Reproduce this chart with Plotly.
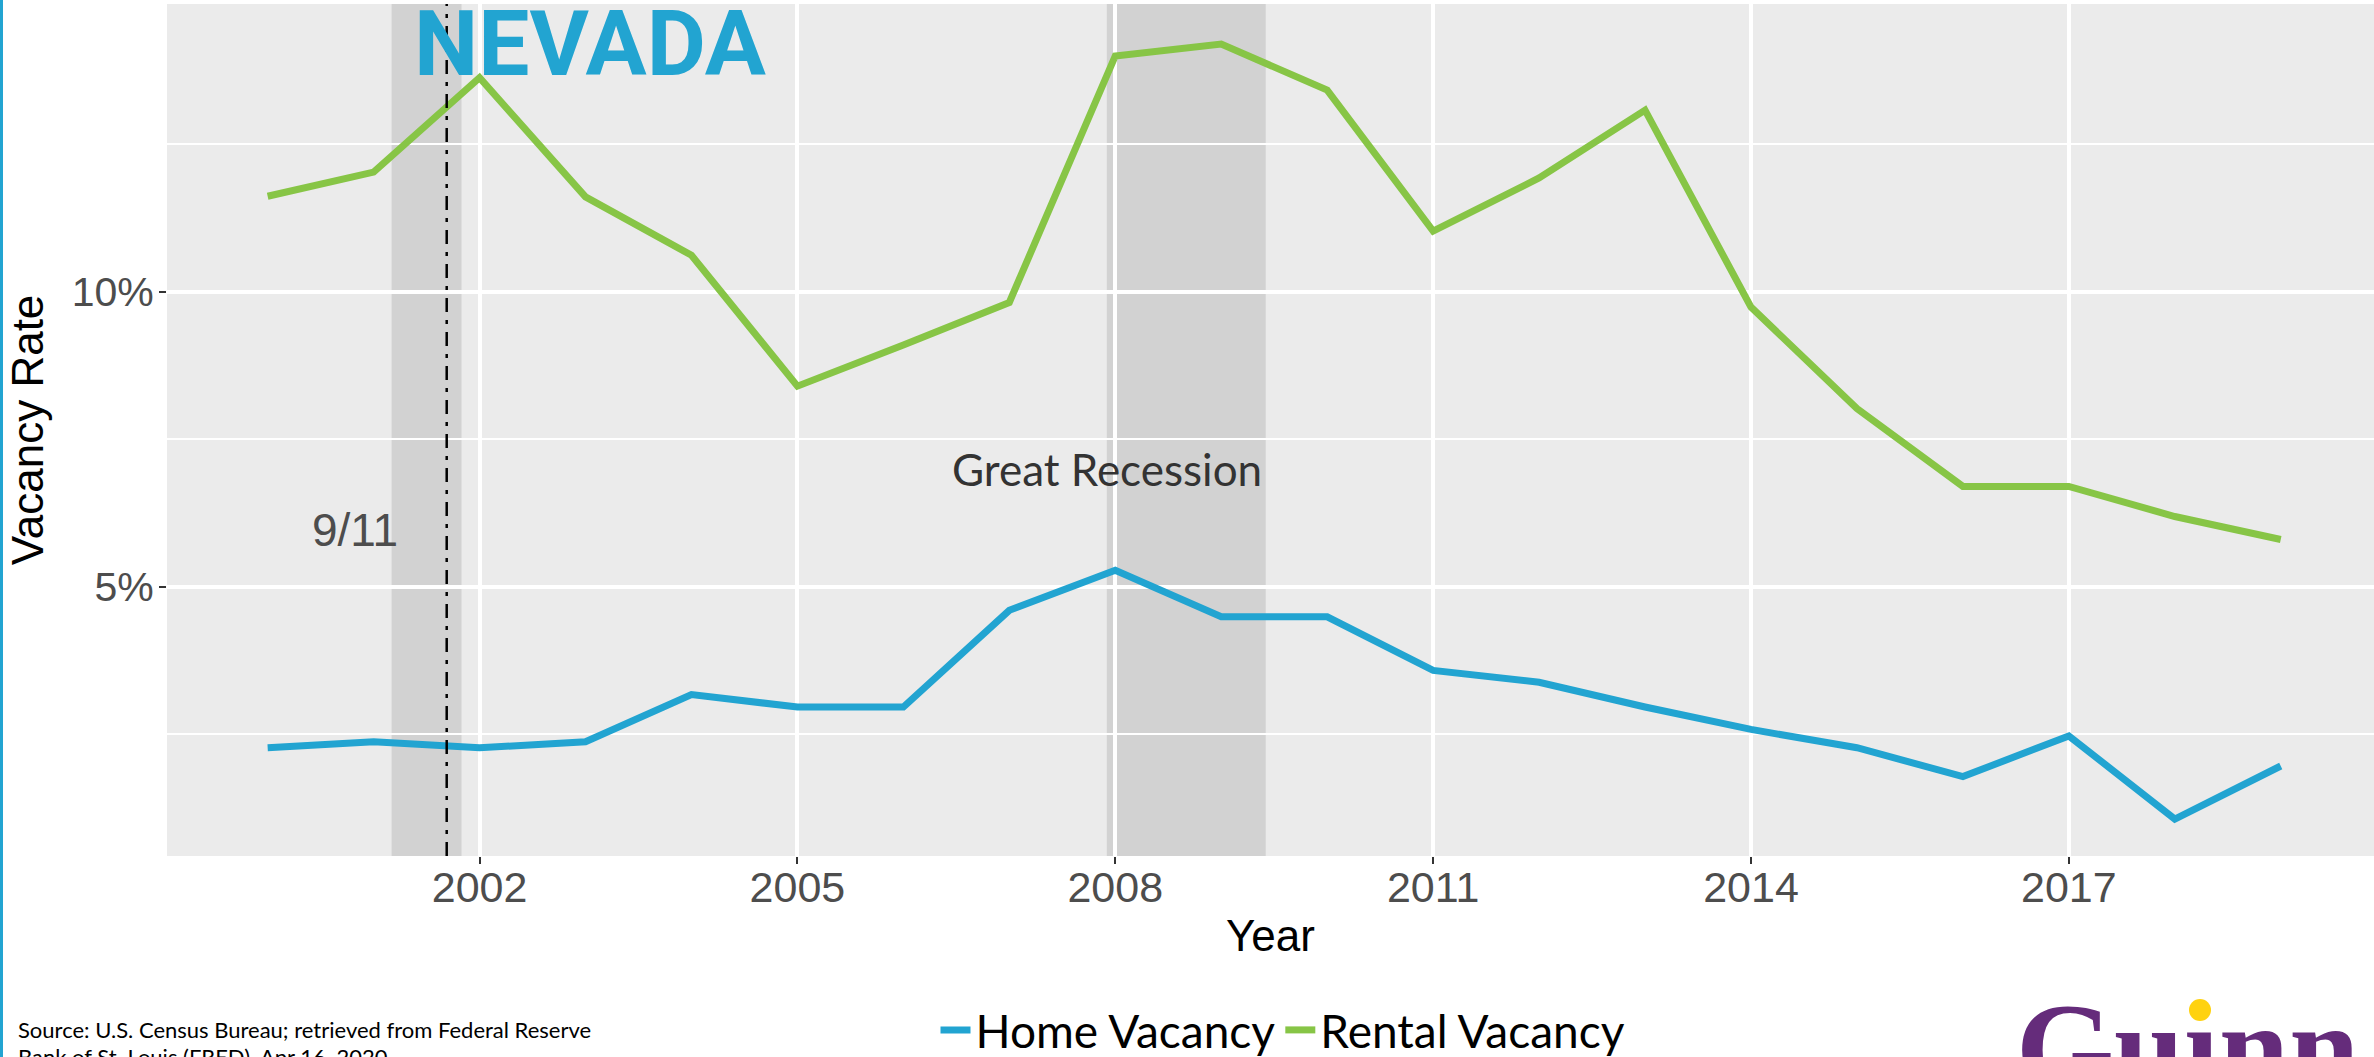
import plotly.graph_objects as go

# ---------------- data ----------------
years = list(range(2000, 2020))
home_vacancy = [2.27, 2.37, 2.27, 2.37, 3.17, 2.96, 2.96, 4.60, 5.28, 4.49,
                4.49, 3.58, 3.38, 2.96, 2.58, 2.27, 1.78, 2.47, 1.06, 1.96]
rental_vacancy = [11.62, 12.03, 13.63, 11.61, 10.62, 8.40, 9.10, 9.82, 14.00, 14.20,
                  13.42, 11.03, 11.93, 13.08, 9.74, 8.02, 6.70, 6.70, 6.19, 5.80]
x_tick_years = [2002, 2005, 2008, 2011, 2014, 2017]
y_tick_vals = [5, 10]
y_tick_text = ["5%", "10%"]
y_minor_vals = [2.5, 7.5, 12.5]
recessions = [(2001.17, 2001.83), (2007.92, 2009.42)]
sept11 = 2001.69

BLUE = "#22A4D1"
GREEN = "#87C546"
PURPLE = "#652C7B"
YELLOW = "#FFD20F"

W, H = 2374, 1057
ML, MR, MT, MB = 167, 0, 4, 201
PW = W - ML - MR
PH = H - MT - MB


def px_x(p):
    return (p - ML) / PW


def px_y(p):
    return (H - MB - p) / PH


fig = go.Figure()
fig.add_trace(go.Scatter(x=years, y=home_vacancy, mode="lines", name="Home Vacancy",
                         line=dict(color=BLUE, width=7)))
fig.add_trace(go.Scatter(x=years, y=rental_vacancy, mode="lines", name="Rental Vacancy",
                         line=dict(color=GREEN, width=7)))

shapes = []
for a, b in recessions:
    shapes.append(dict(type="rect", xref="x", yref="y domain", x0=a, x1=b, y0=0, y1=1,
                       fillcolor="rgba(0,0,0,0.105)", line=dict(width=0), layer="below"))
shapes.append(dict(type="line", xref="x", yref="y domain", x0=sept11, x1=sept11, y0=0, y1=1,
                   line=dict(color="black", width=2.5, dash="14px,8px,4px,8px"), layer="above"))
# left blue frame edge
shapes.append(dict(type="rect", xref="paper", yref="paper", x0=px_x(0), x1=px_x(3),
                   y0=px_y(H), y1=px_y(0), fillcolor=BLUE, line=dict(width=0), layer="above"))
# yellow dot of the logo
shapes.append(dict(type="circle", xref="paper", yref="paper", x0=px_x(2189), x1=px_x(2211),
                   y0=px_y(1021), y1=px_y(999), fillcolor=YELLOW, line=dict(width=0), layer="above"))

human = "Lato, Roboto, sans-serif"
helv = "Liberation Sans, Arial, Helvetica, sans-serif"

annotations = [
    dict(text="<b>NEVADA</b>", xref="paper", yref="paper", x=px_x(412), y=px_y(44),
         xanchor="left", yanchor="middle", showarrow=False,
         font=dict(family="Roboto, Arial, sans-serif", size=91, color=BLUE)),
    dict(text="Great Recession", xref="x", yref="y", x=2007.92, y=7.0,
         xanchor="center", yanchor="middle", showarrow=False,
         font=dict(family=human, size=44, color="#333333")),
    dict(text="9/11", xref="x", yref="y", x=2000.82, y=5.97,
         xanchor="center", yanchor="middle", showarrow=False,
         font=dict(family=helv, size=46, color="#4D4D4D")),
    dict(text="Source: U.S. Census Bureau; retrieved from Federal Reserve", xref="paper", yref="paper",
         x=px_x(16), y=px_y(1029), xanchor="left", yanchor="middle", showarrow=False,
         font=dict(family=human, size=22, color="black")),
    dict(text="Bank of St. Louis (FRED), Apr 16, 2020", xref="paper", yref="paper",
         x=px_x(16), y=px_y(1056), xanchor="left", yanchor="middle", showarrow=False,
         font=dict(family=human, size=22, color="black")),
    dict(text="<b>Gu\u0131nn</b>", xref="paper", yref="paper", x=px_x(2014), y=px_y(977),
         xanchor="left", yanchor="top", showarrow=False,
         font=dict(family="Liberation Serif, DejaVu Serif, serif", size=126, color=PURPLE)),
]

fig.update_layout(
    width=W, height=H,
    margin=dict(l=ML, r=MR, t=MT, b=MB, pad=0),
    paper_bgcolor="white", plot_bgcolor="#EBEBEB",
    shapes=shapes, annotations=annotations,
    showlegend=True,
    legend=dict(orientation="h", xref="container", yref="container",
                x=1283 / W, y=(H - 1030) / H, xanchor="center", yanchor="middle",
                font=dict(family=human, size=46, color="black"),
                bgcolor="rgba(0,0,0,0)"),
    xaxis=dict(range=[1999.05, 2000 + (W - 268.1) / 105.93],
               tickmode="array", tickvals=x_tick_years,
               ticks="outside", ticklen=7, tickwidth=2, tickcolor="#333333",
               tickfont=dict(family=helv, size=43, color="#4D4D4D"),
               ticklabelstandoff=-14,
               showgrid=True, gridcolor="white", gridwidth=4,
               zeroline=False, showline=False,
               title=dict(text="Year", font=dict(family=helv, size=44, color="black"), standoff=10)),
    yaxis=dict(range=[0.434, 14.88],
               tickmode="array", tickvals=y_tick_vals, ticktext=y_tick_text,
               ticks="outside", ticklen=7, tickwidth=2, tickcolor="#333333",
               tickfont=dict(family=helv, size=41, color="#4D4D4D"),
               ticklabelstandoff=-3,
               showgrid=True, gridcolor="white", gridwidth=4,
               minor=dict(tickvals=y_minor_vals, showgrid=True, gridcolor="white", gridwidth=2, ticks=""),
               zeroline=False, showline=False,
               title=dict(text="Vacancy Rate", font=dict(family=helv, size=44, color="black"), standoff=14)),
)

fig.write_html("out.html", config={"displayModeBar": False},
               post_script="document.body.style.margin='0';document.body.style.overflow='hidden';")
